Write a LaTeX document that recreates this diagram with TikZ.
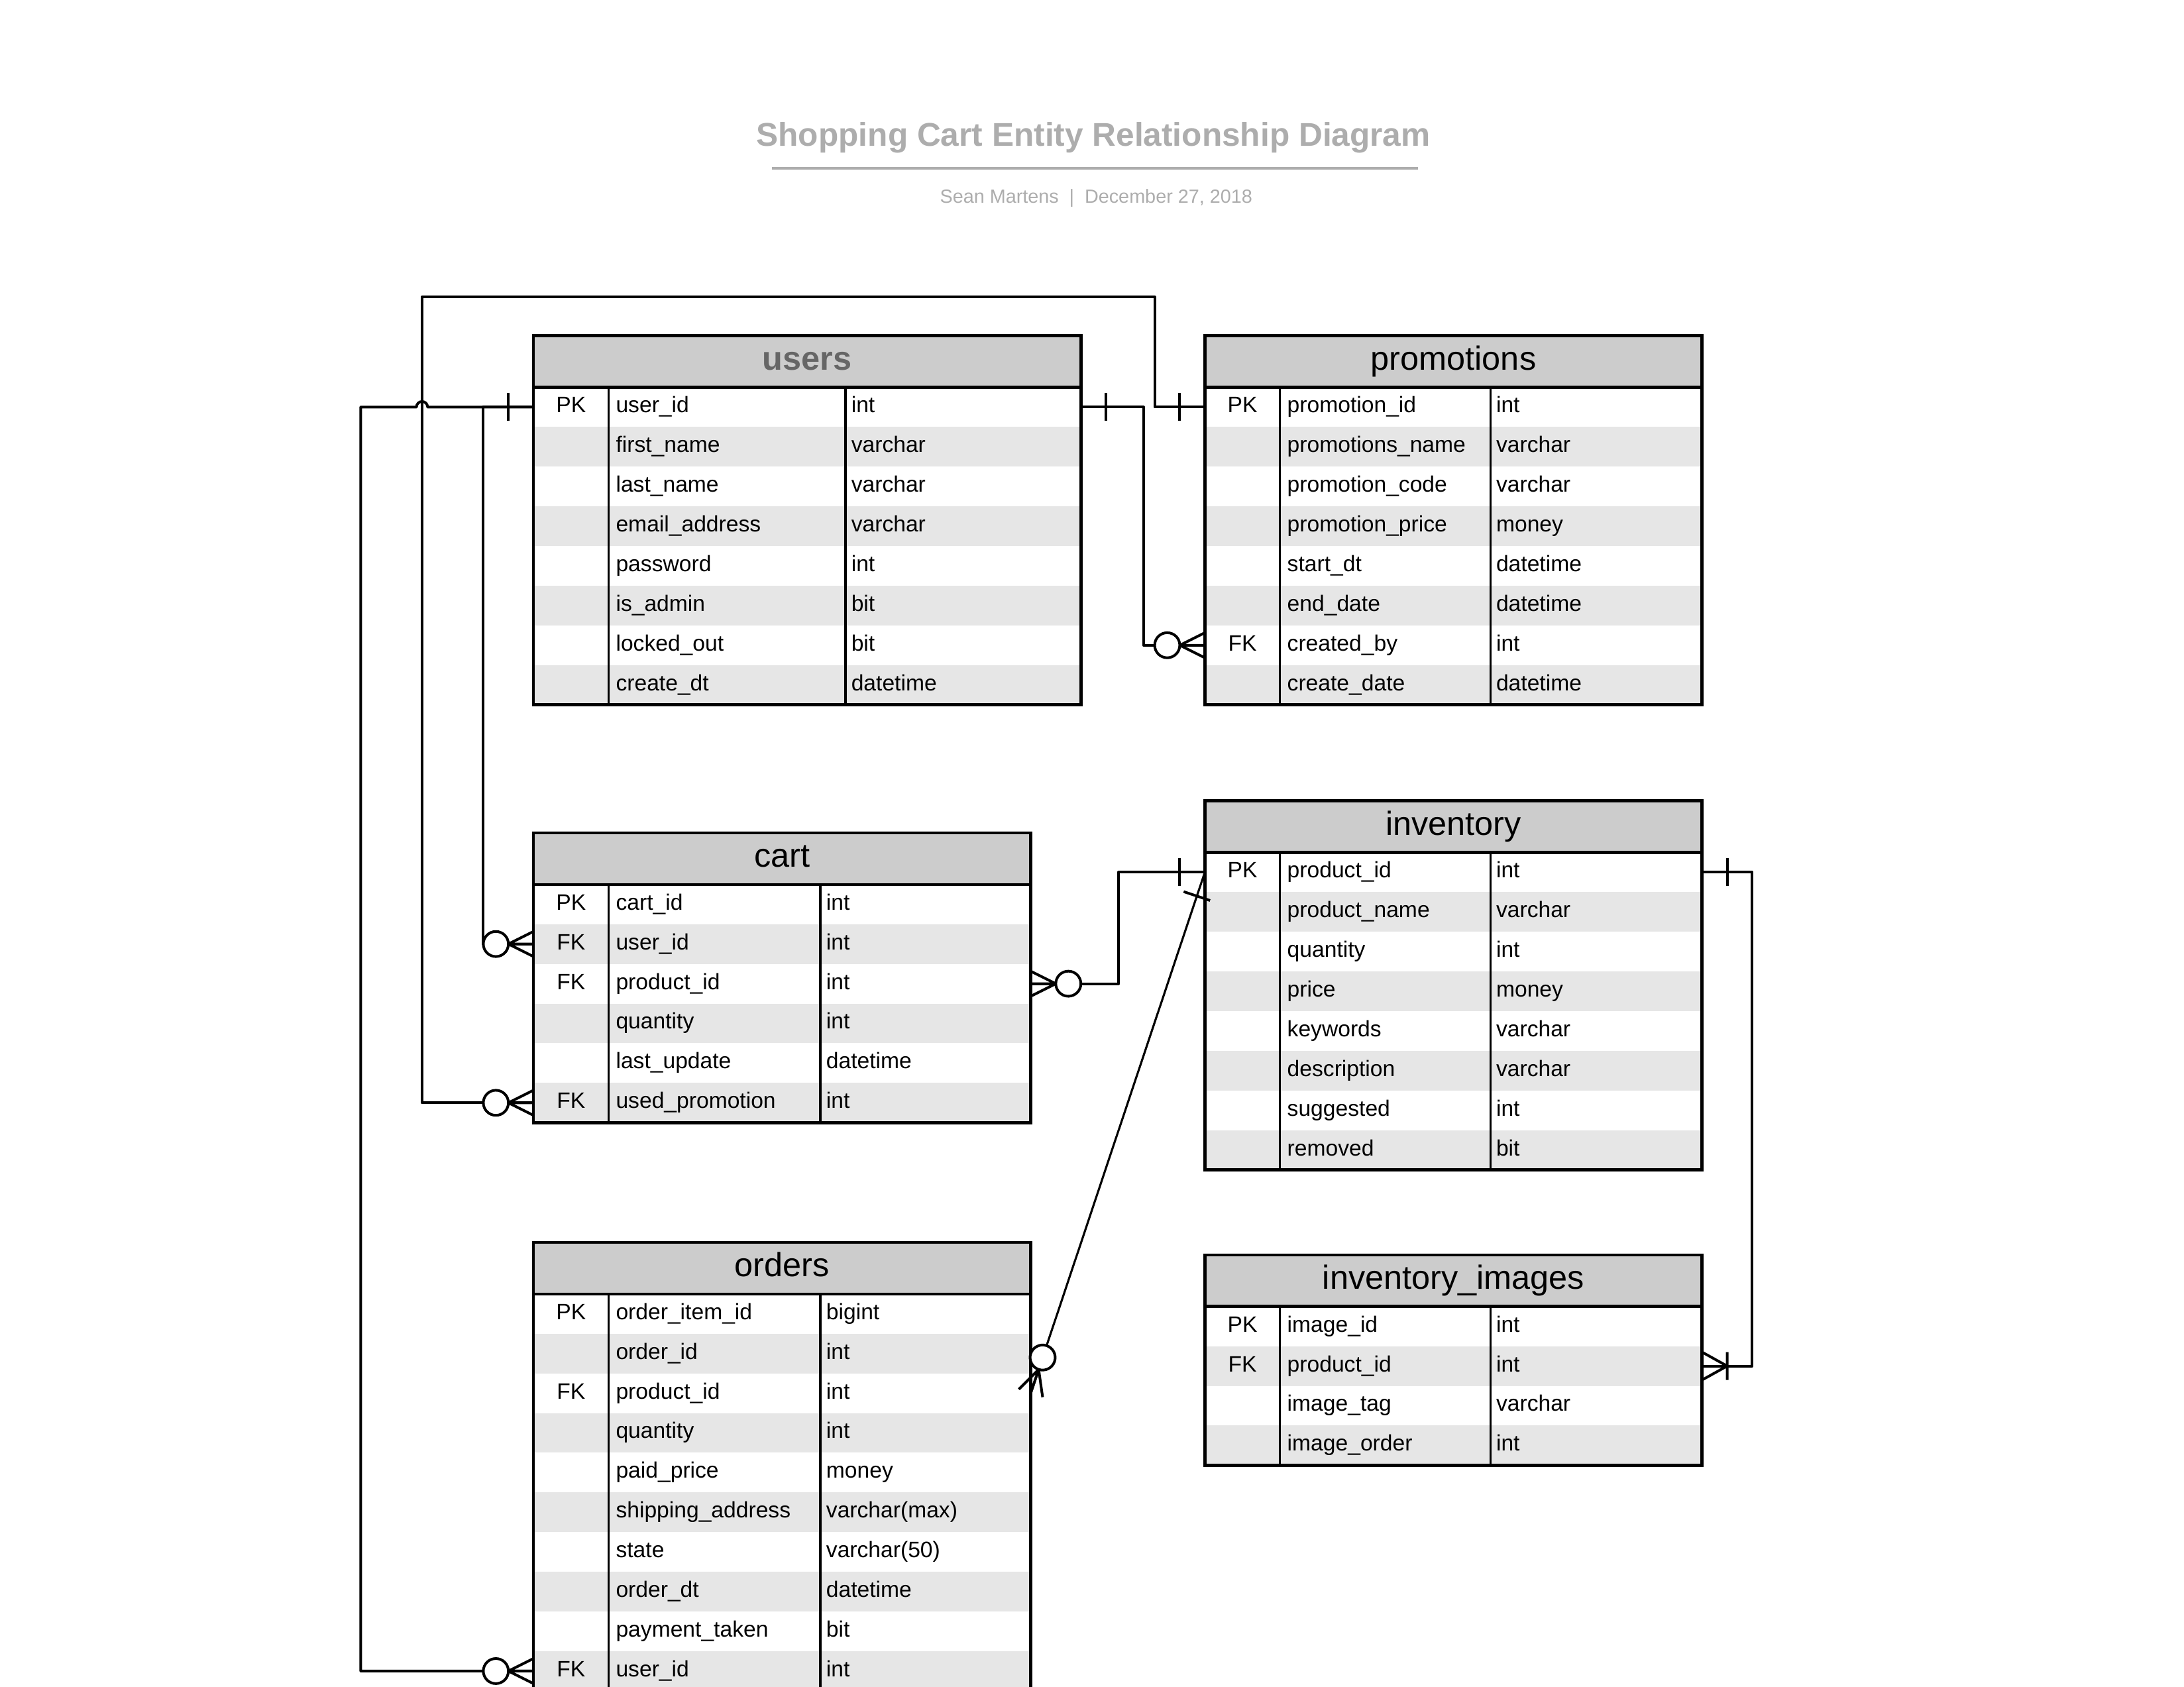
\documentclass[tikz,border=0pt]{standalone}
\usepackage{fontspec}
\setmainfont{Liberation Sans}
\usepackage{tikz}
\usetikzlibrary{calc,positioning}

\definecolor{headgray}{HTML}{CCCCCC}
\definecolor{rowgray}{HTML}{E6E6E6}
\definecolor{titlegray}{HTML}{ADADAD}
\definecolor{usersgray}{HTML}{666666}

\tikzset{
    entityhead/.style={draw, line width=2pt, fill=headgray, anchor=north west, minimum height=37pt,
        inner sep=0pt, outer sep=0pt, font=\fontsize{24}{28}\selectfont, text height=17pt, text depth=5pt},
    entityrow/.style={anchor=north west, minimum height=28.5pt, inner sep=0pt, outer sep=0pt},
    keytext/.style={inner sep=0pt, font=\fontsize{16}{19}\selectfont, text height=11.5pt, text depth=3.5pt},
    fieldtext/.style={keytext, anchor=west},
    entityborder/.style={line width=2.2pt},
    colline/.style={line width=1.6pt},
    erline/.style={line width=1.9pt, line join=round},
    titletext/.style={anchor=base, text=titlegray, font=\fontsize{23.6}{28}\selectfont\bfseries},
    bylinetext/.style={anchor=base, text=titlegray, font=\fontsize{13.7}{16}\selectfont},
    titlerule/.style={line width=2pt, titlegray},
    one mark/.pic={\draw[erline] (18,-10) -- (18,10);},
    zero many mark/.pic={\draw[erline] (0,-9) -- (18,0) -- (0,9) (0,0) -- (18,0);
        \draw[erline, fill=white] (27,0) circle[radius=9];},
    one many mark/.pic={\draw[erline] (0,-10) -- (18,0) -- (0,10) (18,-10) -- (18,10);},
}

% entity table: name, top left, name column, type column, title, rows
\newcommand{\erentity}[6]{%
    \node[entityhead, minimum width={(54+#3+#4)*1pt}] (#1) at #2 {#5};
    \foreach [count=\rownum] \ky/\fd/\ty in {#6} {
        \ifodd\rownum\relax \def\rowfill{white}\else \def\rowfill{rowgray}\fi
        \node[entityrow, fill=\rowfill, minimum width={(54+#3+#4)*1pt}] (#1-\rownum)
            at ($(#1.south west)+(0,{-28.5*(\rownum-1)})$) {};
        \node[keytext] at ($(#1-\rownum.west)+(27,0)$) {\ky};
        \node[fieldtext] at ($(#1-\rownum.west)+(59,0)$) {\fd};
        \node[fieldtext] at ($(#1-\rownum.west)+({58+#3},0)$) {\ty};
        \xdef\lastrow{\rownum}
    }
    \draw[colline] ($(#1.south west)+(54,0)$) -- ($(#1-\lastrow.south west)+(54,0)$)
        ($(#1.south west)+({54+#3},0)$) -- ($(#1-\lastrow.south west)+({54+#3},0)$);
    \draw[entityborder] (#1.south west) -- (#1.south east)
        (#1.north west) rectangle (#1-\lastrow.south east);
}

\begin{document}
\begin{tikzpicture}[x=1pt, y=1pt]
    \clip (0,0) rectangle (1568,-1211);
    \fill[white] (0,0) rectangle (1568,-1211);

    % Title
    \node[titletext] (title) at (785,-105) {Shopping Cart Entity Relationship Diagram};
    \draw[titlerule] ($(title.base)+(-231,-16)$) -- ($(title.base)+(233,-16)$);
    \node[bylinetext] (byline) at (787,-146) {Sean Martens\hspace{0.55em}|\hspace{0.55em}December 27, 2018};

    % Entities
    \erentity{users}{(383,-241)}{170}{169}{\bfseries\color{usersgray}users}{
        PK/user\_id/int, /first\_name/varchar, /last\_name/varchar, /email\_address/varchar,
        /password/int, /is\_admin/bit, /locked\_out/bit, /create\_dt/datetime}
    \erentity{promotions}{(865,-241)}{151}{152}{promotions}{
        PK/promotion\_id/int, /promotions\_name/varchar, /promotion\_code/varchar,
        /promotion\_price/money, /start\_dt/datetime, /end\_date/datetime,
        FK/created\_by/int, /create\_date/datetime}
    \erentity{cart}{(383,-598)}{152}{151}{cart}{
        PK/cart\_id/int, FK/user\_id/int, FK/product\_id/int, /quantity/int,
        /last\_update/datetime, FK/used\_promotion/int}
    \erentity{inventory}{(865,-575)}{151}{152}{inventory}{
        PK/product\_id/int, /product\_name/varchar, /quantity/int, /price/money,
        /keywords/varchar, /description/varchar, /suggested/int, /removed/bit}
    \erentity{orders}{(383,-892)}{152}{151}{orders}{
        PK/order\_item\_id/bigint, /order\_id/int, FK/product\_id/int, /quantity/int,
        /paid\_price/money, /shipping\_address/varchar(max), /state/varchar(50),
        /order\_dt/datetime, /payment\_taken/bit, FK/user\_id/int}
    \erentity{images}{(865,-901)}{151}{152}{inventory\_images}{
        PK/image\_id/int, FK/product\_id/int, /image\_tag/varchar, /image\_order/int}

    % Relationships
    \draw[erline] (users-1.west) -- ++(-36,0) |- (cart-2.west);
    \draw[erline] (users-1.west) -- ++(-76,0) arc[start angle=0, end angle=180, radius=4]
        -- ++(-40,0) |- (orders-10.west);
    \draw[erline] (cart-6.west) -- ++(-80,0) |- ($(promotions-1.west)+(-36,79)$) |- (promotions-1.west);
    \draw[erline] (users-1.east) -- ++(45,0) |- (promotions-7.west);
    \draw[erline] (cart-3.east) -- ++(63,0) |- (inventory-1.west);
    \draw[erline, line width=1.5pt] (inventory-1.west) -- (orders-3.east);
    \draw[erline] (inventory-1.east) -- ++(36,0) |- (images-2.east);

    % Cardinality marks
    \pic[rotate=180] at (users-1.west) {one mark};
    \pic at (users-1.east) {one mark};
    \pic[rotate=180] at (cart-2.west) {zero many mark};
    \pic[rotate=180] at (cart-6.west) {zero many mark};
    \pic[rotate=180] at (orders-10.west) {zero many mark};
    \pic[rotate=180] at (promotions-1.west) {one mark};
    \pic[rotate=180] at (promotions-7.west) {zero many mark};
    \pic at (cart-3.east) {zero many mark};
    \pic[rotate=180] at (inventory-1.west) {one mark};
    \pic at (inventory-1.east) {one mark};
    \pic at (images-2.east) {one many mark};
    \path let \p1 = ($(orders-3.east)-(inventory-1.west)$), \n1 = {atan2(\y1,\x1)} in
        pic[rotate=\n1] at (inventory-1.west) {one mark}
        pic[rotate=\n1+180] at (orders-3.east) {zero many mark};
\end{tikzpicture}
\end{document}
